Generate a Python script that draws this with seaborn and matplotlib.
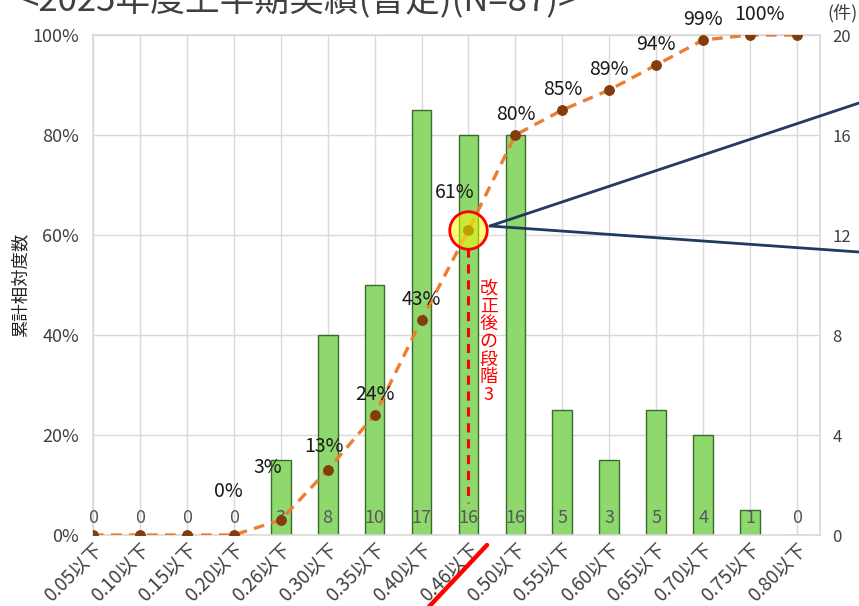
import matplotlib
matplotlib.use("Agg")
import matplotlib.pyplot as plt
import seaborn as sns
import pandas as pd
from matplotlib.lines import Line2D
from matplotlib.ticker import FuncFormatter, FixedLocator

categories = ['0.05以下', '0.10以下', '0.15以下', '0.20以下', '0.26以下', '0.30以下',
              '0.35以下', '0.40以下', '0.46以下', '0.50以下', '0.55以下', '0.60以下',
              '0.65以下', '0.70以下', '0.75以下', '0.80以下']
counts = [0, 0, 0, 0, 3, 8, 10, 17, 16, 16, 5, 3, 5, 4, 1, 0]
cum_pct = [0, 0, 0, 0, 3, 13, 24, 43, 61, 80, 85, 89, 94, 99, 100, 100]
pct_labels = ['', '', '', '0%', '3%', '13%', '24%', '43%', '61%', '80%', '85%', '89%',
              '94%', '99%', '100%', '']
# label offsets (points) relative to the points
pct_offsets = [(0, 15), (0, 15), (0, 15), (-4, 31), (-9, 38), (-3, 17), (0, 15), (0, 15),
               (-10, 27), (0, 15), (0, 15), (0, 15), (0, 15), (0, 15), (7, 15), (0, 15)]
title_text = '<2025年度上半期実績(暫定)(N=87)>'
left_label = '累計相対度数'
right_unit = '(件)'
note_text = '改正後の段階3'
highlight_idx = 8

sns.set_theme(style='white')
FONT = ['Noto Sans CJK JP', 'DejaVu Sans']
plt.rcParams['font.family'] = FONT

df = pd.DataFrame({'cat': categories, 'count': counts, 'cum': [v / 100 for v in cum_pct]})

fig = plt.figure(figsize=(8.59, 6.06), dpi=100)
ax = fig.add_axes([93 / 859, 1 - 535 / 606, (820 - 93) / 859, 500 / 606])

# bars (count axis, shown on the right)
sns.barplot(data=df, x='cat', y='count', ax=ax, color='#8ED86E', width=0.42,
            edgecolor='#3B6B2A', linewidth=1.0, saturation=1, zorder=2)
ax.set_ylim(0, 20)
ax.set_xlim(0, 15.49)
ax.set_xlabel('')
ax.set_ylabel('')
ax.grid(True, axis='both', color='#D9D9D9', linewidth=1.0, zorder=0)
ax.set_axisbelow(True)
for s in ax.spines.values():
    s.set_color('#D9D9D9')
    s.set_linewidth(1.2)

for i, c in enumerate(counts):
    ax.annotate(str(c), (i, 0), xytext=(0, 12), textcoords='offset points',
                ha='center', va='center', fontsize=13, color='#595959', zorder=5)

# cumulative line (left axis)
ax2 = ax.twinx()
sns.lineplot(data=df, x='cat', y='cum', ax=ax2, sort=False, color='#ED7D31',
             linewidth=2.4, linestyle=(0, (3.2, 2.2)), marker='o', markersize=7,
             markerfacecolor='#843C0C', markeredgecolor='#843C0C', zorder=4)

# axis sides (after twinx, which resets the primary to the left)
ax.yaxis.tick_right()
ax.yaxis.set_major_locator(FixedLocator([0, 4, 8, 12, 16, 20]))
ax.tick_params(axis='y', labelsize=12, labelcolor='#404040', length=0, pad=9,
               left=False, labelleft=False, right=True, labelright=True)
ax.tick_params(axis='x', labelsize=13.5, labelcolor='#404040', length=0, pad=3)
for lab in ax.get_xticklabels():
    lab.set_rotation(45)
    lab.set_ha('right')
    lab.set_rotation_mode('anchor')

ax2.set_ylim(0, 1)
ax2.set_xlim(0, 15.49)
ax2.yaxis.tick_left()
ax2.yaxis.set_label_position('left')
ax2.yaxis.set_major_locator(FixedLocator([0, 0.2, 0.4, 0.6, 0.8, 1.0]))
ax2.yaxis.set_major_formatter(FuncFormatter(lambda v, p: f'{v * 100:.0f}%'))
ax2.tick_params(axis='y', labelsize=13, labelcolor='#404040', length=0, pad=10,
                right=False, labelright=False, left=True, labelleft=True)
ax2.set_ylabel(left_label, fontsize=12.5, color='#222222')
ax2.yaxis.set_label_coords((29 - 93) / 727, 0.5)
ax2.set_xlabel('')
ax2.grid(False)
for s in ax2.spines.values():
    s.set_visible(False)

for i, (lab, off) in enumerate(zip(pct_labels, pct_offsets)):
    if lab:
        ax2.annotate(lab, (i, cum_pct[i] / 100), xytext=off, textcoords='offset points',
                     ha='center', va='center', fontsize=14, color='#1A1A1A', zorder=6)

# highlight circle
ax2.plot([highlight_idx], [cum_pct[highlight_idx] / 100], marker='o', markersize=27,
         markerfacecolor=(1, 1, 0, 0.5), markeredgecolor='#FF0000', markeredgewidth=2,
         zorder=7, linestyle='none')
# red dashed vertical
ax2.plot([highlight_idx, highlight_idx], [0.575, 0.065], color='#FF0000', linewidth=2.2,
         linestyle=(0, (3, 2.2)), zorder=6)
# vertical red text
ax2.text(highlight_idx + 0.43, 0.386, '\n'.join(note_text), ha='center', va='center',
         fontsize=13, color='#FF0000', linespacing=0.98, zorder=6)

# right axis unit
fig.text(858 / 859, 1 - 13 / 606, right_unit, ha='right', va='center', fontsize=13,
         color='#404040')
# clipped title
fig.text(20 / 859, 1 - 11 / 606, title_text, ha='left', va='baseline', fontsize=25,
         color='#404040')

# callout lines (navy)
p0 = (490 / 859, 1 - 226 / 606)
fig.add_artist(Line2D([p0[0], 1.0], [p0[1], 1 - 103 / 606], transform=fig.transFigure,
                      color='#1F3A5F', linewidth=2))
fig.add_artist(Line2D([p0[0], 1.0], [p0[1], 1 - 252 / 606], transform=fig.transFigure,
                      color='#1F3A5F', linewidth=2))
# red diagonal strike through 0.46 label
fig.add_artist(Line2D([487 / 859, 424 / 859], [1 - 545 / 606, 1 - 612 / 606],
                      transform=fig.transFigure, color='#FF0000', linewidth=3.2))

fig.savefig('out.png', dpi=100)
